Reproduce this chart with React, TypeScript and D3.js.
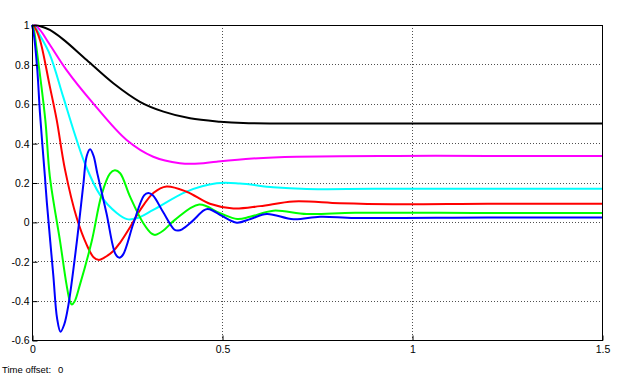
import * as d3 from "d3";
import { useEffect, useRef } from "react";

type Pt = [number, number];

// values: [time, output]
const blackSeries: Pt[] = [
    [0, 1], [0.02, 0.995], [0.047, 0.975], [0.082, 0.927], [0.144, 0.822],
    [0.214, 0.704], [0.284, 0.61], [0.346, 0.56], [0.416, 0.526],
    [0.495, 0.509], [0.556, 0.502], [0.65, 0.5], [0.9, 0.5], [1.5, 0.5],
];
const magentaSeries: Pt[] = [
    [0, 1], [0.01, 0.995], [0.021, 0.975], [0.047, 0.9], [0.091, 0.771],
    [0.161, 0.602], [0.249, 0.416], [0.319, 0.331], [0.389, 0.298],
    [0.44, 0.296], [0.486, 0.306], [0.58, 0.322], [0.697, 0.331],
    [0.96, 0.335], [1.2, 0.335], [1.5, 0.335],
];
const cyanSeries: Pt[] = [
    [0, 1], [0.008, 0.99], [0.02, 0.95], [0.047, 0.85], [0.082, 0.636],
    [0.109, 0.467], [0.139, 0.297], [0.179, 0.137], [0.223, 0.045],
    [0.25, 0.014], [0.275, 0.018], [0.319, 0.061], [0.407, 0.154],
    [0.486, 0.196], [0.547, 0.195], [0.635, 0.176], [0.723, 0.167],
    [0.9, 0.168], [1.2, 0.168], [1.5, 0.168],
];
const redSeries: Pt[] = [
    [0, 1], [0.008, 0.985], [0.021, 0.924], [0.047, 0.687], [0.065, 0.518],
    [0.087, 0.264], [0.118, 0.018], [0.144, -0.117], [0.162, -0.18],
    [0.175, -0.193], [0.19, -0.182], [0.214, -0.148], [0.232, -0.105],
    [0.258, -0.027], [0.284, 0.058], [0.32, 0.148], [0.354, 0.18],
    [0.407, 0.153], [0.468, 0.092], [0.53, 0.068], [0.6, 0.08],
    [0.688, 0.104], [0.81, 0.095], [0.95, 0.09], [1.2, 0.092], [1.5, 0.092],
];
const greenSeries: Pt[] = [
    [0, 1], [0.005, 0.975], [0.012, 0.88], [0.035, 0.518], [0.047, 0.23],
    [0.074, -0.1], [0.091, -0.32], [0.1, -0.405], [0.105, -0.42],
    [0.112, -0.405], [0.126, -0.32], [0.157, -0.1], [0.183, 0.137],
    [0.205, 0.245], [0.218, 0.262], [0.232, 0.247], [0.258, 0.128],
    [0.293, -0.007], [0.315, -0.06], [0.325, -0.066], [0.345, -0.045],
    [0.376, 0.01], [0.44, 0.088], [0.495, 0.044], [0.54, 0.015],
    [0.574, 0.026], [0.635, 0.057], [0.723, 0.04], [0.85, 0.046],
    [1.2, 0.045], [1.5, 0.045],
];
const blueSeries: Pt[] = [
    [0, 1], [0.005, 0.95], [0.014, 0.77], [0.021, 0.551], [0.034, 0.23],
    [0.039, 0.1], [0.056, -0.27], [0.066, -0.49], [0.075, -0.558],
    [0.085, -0.52], [0.096, -0.42], [0.118, -0.1], [0.135, 0.188],
    [0.144, 0.335], [0.153, 0.369], [0.162, 0.335], [0.172, 0.245],
    [0.196, 0.044], [0.22, -0.165], [0.23, -0.182], [0.24, -0.165],
    [0.267, -0.007], [0.295, 0.135], [0.306, 0.147], [0.318, 0.135],
    [0.345, 0.05], [0.375, -0.04], [0.385, -0.044], [0.395, -0.038],
    [0.42, 0.0], [0.452, 0.058], [0.462, 0.065], [0.475, 0.058],
    [0.5, 0.03], [0.539, -0.004], [0.575, 0.015], [0.618, 0.04],
    [0.688, 0.013], [0.758, 0.026], [0.85, 0.02], [1.2, 0.022], [1.5, 0.022],
];

const seriesList = [
    { name: "black", color: "#000000", points: blackSeries },
    { name: "magenta", color: "#ff00ff", points: magentaSeries },
    { name: "cyan", color: "#00ffff", points: cyanSeries },
    { name: "red", color: "#ff0000", points: redSeries },
    { name: "green", color: "#00ff00", points: greenSeries },
    { name: "blue", color: "#0000ff", points: blueSeries },
];

const xTicks = [0, 0.5, 1, 1.5];
const yTicks = [-0.6, -0.4, -0.2, 0, 0.2, 0.4, 0.6, 0.8, 1];
const timeOffset = "0";

const App = () => {
    const svgRef = useRef<SVGSVGElement | null>(null);

    const dimensions = { width: 624, height: 381 };
    const plot = { left: 32, right: 602, top: 25, bottom: 340 };
    const font = "'Liberation Sans', Arial, sans-serif";

    useEffect(() => {
        const svg = d3.select(svgRef.current);
        svg.selectAll("*").remove();

        const xScale = d3.scaleLinear().domain([0, 1.5]).range([plot.left, plot.right]);
        const yScale = d3.scaleLinear().domain([-0.6, 1]).range([plot.bottom, plot.top]);

        svg.append("rect")
            .attr("width", dimensions.width)
            .attr("height", dimensions.height)
            .attr("fill", "#ffffff");

        // dotted grid
        const grid = svg.append("g").attr("stroke", "#505050").attr("stroke-dasharray", "1,2");
        grid.selectAll("line.gx")
            .data(xTicks.filter((t) => t > 0 && t < 1.5))
            .join("line")
            .attr("x1", (d) => xScale(d) + 0.5)
            .attr("x2", (d) => xScale(d) + 0.5)
            .attr("y1", plot.top)
            .attr("y2", plot.bottom);
        grid.selectAll("line.gy")
            .data(yTicks.filter((t) => t > -0.6 && t < 1))
            .join("line")
            .attr("x1", plot.left)
            .attr("x2", plot.right)
            .attr("y1", (d) => Math.round(yScale(d)) + 0.5)
            .attr("y2", (d) => Math.round(yScale(d)) + 0.5);

        const line = d3
            .line<Pt>()
            .x((d) => xScale(d[0]))
            .y((d) => yScale(d[1]))
            .curve(d3.curveCatmullRom.alpha(0.5));

        svg.append("g")
            .selectAll("path")
            .data(seriesList)
            .join("path")
            .attr("d", (d) => line(d.points))
            .attr("fill", "none")
            .attr("stroke", (d) => d.color)
            .attr("stroke-width", 2)
            .attr("stroke-linejoin", "round");

        // axes box
        svg.append("rect")
            .attr("x", plot.left + 0.5)
            .attr("y", plot.top + 0.5)
            .attr("width", plot.right - plot.left)
            .attr("height", plot.bottom - plot.top)
            .attr("fill", "none")
            .attr("stroke", "#000")
            .attr("stroke-width", 1);

        const xAxis = d3.axisBottom(xScale).tickValues(xTicks).tickSizeInner(-5).tickSizeOuter(0)
            .tickFormat((d) => String(d));
        const yAxis = d3.axisLeft(yScale).tickValues(yTicks).tickSizeInner(-5).tickSizeOuter(0)
            .tickFormat((d) => String(+(+d).toFixed(1)));

        const gx = svg.append("g")
            .attr("transform", `translate(0.5, ${plot.bottom + 0.5})`)
            .call(xAxis);
        gx.select(".domain").remove();
        gx.selectAll("text")
            .attr("y", 5)
            .attr("font-size", 10.5)
            .attr("font-family", font)
            .attr("fill", "#000");

        const gy = svg.append("g")
            .attr("transform", `translate(${plot.left + 0.5}, 0.5)`)
            .call(yAxis);
        gy.select(".domain").remove();
        gy.selectAll("text")
            .attr("x", -3)
            .attr("font-size", 10.5)
            .attr("font-family", font)
            .attr("fill", "#000");

        svg.append("text")
            .attr("x", 2)
            .attr("y", 373)
            .attr("font-size", 9.5)
            .attr("font-family", font)
            .text("Time offset:");
        svg.append("text")
            .attr("x", 58)
            .attr("y", 373)
            .attr("font-size", 9.5)
            .attr("font-family", font)
            .text(timeOffset);
    }, []);

    return (
        <svg
            ref={svgRef}
            width={dimensions.width}
            height={dimensions.height}
            style={{ position: "absolute", left: 0, top: 0 }}
        />
    );
};

export default App;
